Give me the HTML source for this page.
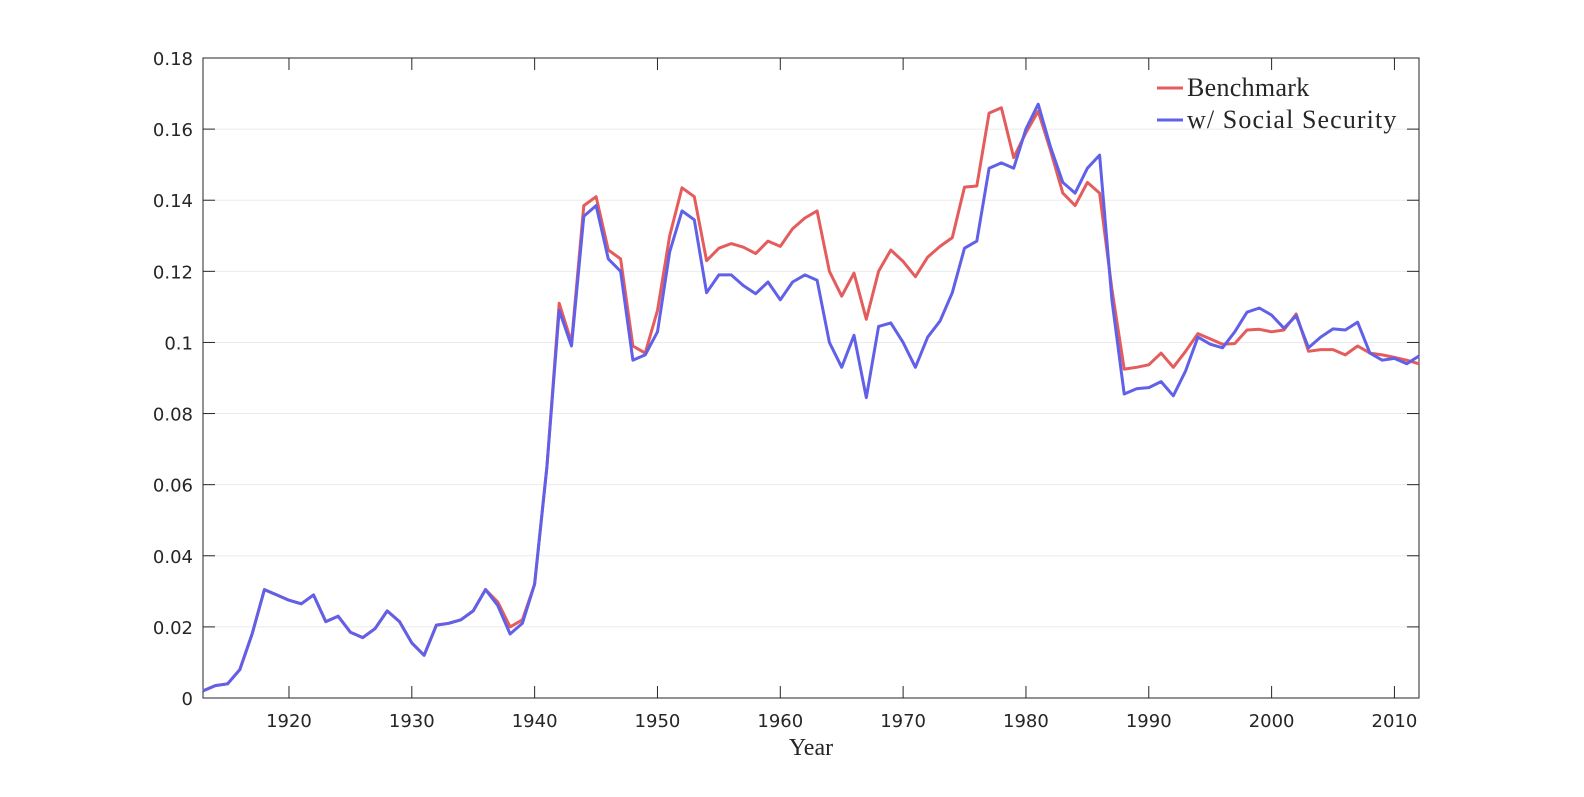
<!DOCTYPE html>
<html><head><meta charset="utf-8"><style>
body{margin:0;background:#fff}
svg text{font-family:"DejaVu Sans","Liberation Sans",sans-serif;fill:#262626}
</style></head><body>
<svg id="chart" width="1584" height="792" xmlns="http://www.w3.org/2000/svg">
<rect width="1584" height="792" fill="#fff"/>
<g id="grid"></g>
<g id="axes"></g>
<g id="series"></g>
<text x="811" y="755" text-anchor="middle" style="font-family:'Liberation Serif',serif;font-size:24px">Year</text>
<g>
<line x1="1157" y1="88" x2="1183" y2="88" stroke="#e55c5c" stroke-width="3"/>
<text x="1187" y="96" style="font-family:'Liberation Serif',serif;font-size:26px;letter-spacing:0.3px">Benchmark</text>
<line x1="1157" y1="120" x2="1183" y2="120" stroke="#6060e8" stroke-width="3"/>
<text x="1187" y="128" style="font-family:'Liberation Serif',serif;font-size:26px;letter-spacing:1.1px">w/ Social Security</text>
</g>
</svg>
<script>
const years=[];for(let y=1913;y<=2012;y++)years.push(y);
const benchmark=[0.002,0.0035,0.004,0.008,0.018,0.0305,0.029,0.0275,0.0265,0.029,0.0215,0.023,0.0185,0.017,0.0195,0.0245,0.0215,0.0155,0.012,0.0205,0.021,0.022,0.0245,0.0305,0.027,0.020,0.022,0.032,0.065,0.111,0.100,0.1385,0.141,0.126,0.1235,0.099,0.097,0.109,0.130,0.1435,0.141,0.123,0.1265,0.1278,0.1268,0.125,0.1285,0.127,0.132,0.135,0.137,0.120,0.113,0.1195,0.1065,0.120,0.126,0.1228,0.1185,0.124,0.127,0.1295,0.1437,0.144,0.1645,0.166,0.152,0.159,0.165,0.154,0.142,0.1385,0.145,0.142,0.115,0.0925,0.093,0.0937,0.097,0.093,0.0975,0.1025,0.101,0.0995,0.0997,0.1035,0.1037,0.103,0.1035,0.108,0.0975,0.098,0.098,0.0965,0.099,0.097,0.0965,0.0958,0.095,0.094];
const socialSecurity=[0.002,0.0035,0.004,0.008,0.018,0.0305,0.029,0.0275,0.0265,0.029,0.0215,0.023,0.0185,0.017,0.0195,0.0245,0.0215,0.0155,0.012,0.0205,0.021,0.022,0.0245,0.0305,0.026,0.018,0.021,0.032,0.065,0.109,0.099,0.1355,0.1385,0.1235,0.120,0.095,0.0965,0.103,0.1255,0.137,0.1345,0.114,0.119,0.119,0.116,0.1137,0.117,0.112,0.117,0.119,0.1175,0.100,0.093,0.102,0.0845,0.1045,0.1055,0.100,0.093,0.1015,0.106,0.114,0.1265,0.1285,0.149,0.1505,0.149,0.160,0.167,0.155,0.145,0.142,0.149,0.1527,0.112,0.0855,0.087,0.0873,0.089,0.085,0.092,0.1015,0.0995,0.0985,0.103,0.1085,0.1097,0.1077,0.104,0.1075,0.0985,0.1015,0.1038,0.1035,0.1057,0.097,0.095,0.0955,0.094,0.0962];
const yTicks=[0,0.02,0.04,0.06,0.08,0.1,0.12,0.14,0.16,0.18];
const yTickLabels=["0","0.02","0.04","0.06","0.08","0.1","0.12","0.14","0.16","0.18"];
const xTicks=[1920,1930,1940,1950,1960,1970,1980,1990,2000,2010];
const L=203,R=1419,T=58,B=698,X0=1913,X1=2012,Y0=0,Y1=0.18;
const sx=v=>L+(v-X0)/(X1-X0)*(R-L);
const sy=v=>B-(v-Y0)/(Y1-Y0)*(B-T);
const NS="http://www.w3.org/2000/svg";
function mk(tag,attrs,parent){const e=document.createElementNS(NS,tag);for(const k in attrs)e.setAttribute(k,attrs[k]);parent.appendChild(e);return e;}
const grid=document.getElementById('grid'),axes=document.getElementById('axes'),series=document.getElementById('series');
yTicks.forEach((t,i)=>{
  const y=sy(t);
  if(t>Y0&&t<Y1){const g=mk('line',{x1:L,x2:R,y1:y,y2:y,stroke:'#ebebeb','stroke-width':1},grid);
  
  }
  mk('line',{x1:L,x2:L+12,y1:y,y2:y,stroke:'#262626','stroke-width':1},axes);
  mk('line',{x1:R-12,x2:R,y1:y,y2:y,stroke:'#262626','stroke-width':1},axes);
  const tx=mk('text',{x:L-10,y:y+7,'text-anchor':'end','font-size':18},axes);
  
  
  tx.textContent=yTickLabels[i];
});
xTicks.forEach(t=>{
  const x=sx(t);
  mk('line',{x1:x,x2:x,y1:B,y2:B-12,stroke:'#262626','stroke-width':1},axes);
  mk('line',{x1:x,x2:x,y1:T,y2:T+12,stroke:'#262626','stroke-width':1},axes);
  const tx=mk('text',{x:x,y:B+29,'text-anchor':'middle','font-size':18},axes);
  
  
  tx.textContent=t;
});
const box=mk('rect',{x:L,y:T,width:R-L,height:B-T,fill:'none',stroke:'#262626','stroke-width':1},axes);


function line(vals,color,name){
  const d=vals.map((v,i)=>(i?'L':'M')+sx(years[i]).toFixed(1)+' '+sy(v).toFixed(1)).join(' ');
  const p=mk('path',{d:d,fill:'none',stroke:color,'stroke-width':3,'stroke-linejoin':'round'},series);
  
  
}
line(benchmark,'#e55c5c','benchmark-line');
line(socialSecurity,'#6060e8','social-security-line');
</script>
</body></html>
